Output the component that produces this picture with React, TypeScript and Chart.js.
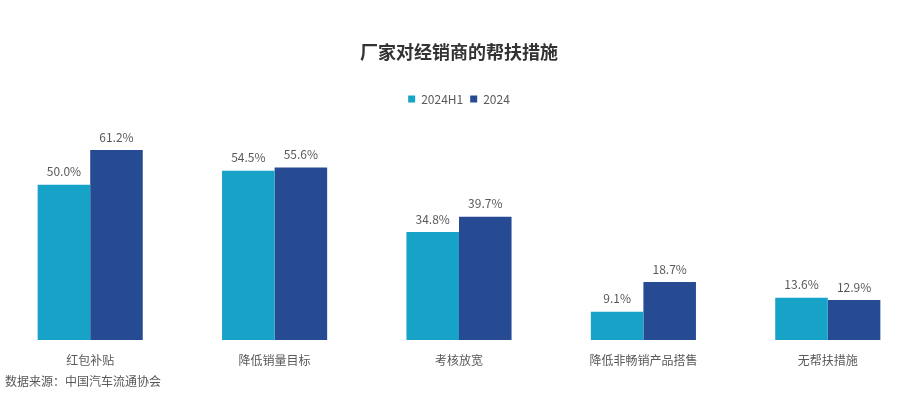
import React, { useEffect, useRef } from "react";
import { Chart, registerables } from "chart.js";

Chart.register(...registerables);

const categories = ["红包补贴", "降低销量目标", "考核放宽", "降低非畅销产品搭售", "无帮扶措施"];
const series2024H1 = [50.0, 54.5, 34.8, 9.1, 13.6];
const series2024 = [61.2, 55.6, 39.7, 18.7, 12.9];
const seriesNames = ["2024H1", "2024"];

const FONT = "'Noto Sans CJK SC', 'Noto Sans', sans-serif";

const labelPlugin = {
  id: "barLabels",
  afterDatasetsDraw(chart: any) {
    const ctx = chart.ctx;
    ctx.save();
    ctx.font = `12px ${FONT}`;
    ctx.fillStyle = "#595959";
    ctx.textAlign = "center";
    ctx.textBaseline = "middle";
    chart.data.datasets.forEach((ds: any, di: number) => {
      const meta = chart.getDatasetMeta(di);
      meta.data.forEach((bar: any, i: number) => {
        ctx.fillText(ds.data[i].toFixed(1) + "%", bar.x, bar.y - 13);
      });
    });
    ctx.restore();
  },
};

export default function App() {
  const ref = useRef<HTMLCanvasElement | null>(null);
  useEffect(() => {
    if (!ref.current) return;
    const chart = new Chart(ref.current, {
      type: "bar",
      data: {
        labels: categories,
        datasets: [
          { label: seriesNames[0], data: series2024H1, backgroundColor: "#17a2c8", categoryPercentage: 0.57, barPercentage: 1.0 },
          { label: seriesNames[1], data: series2024, backgroundColor: "#264b93", categoryPercentage: 0.57, barPercentage: 1.0 },
        ],
      },
      options: {
        animation: false,
        responsive: false,
        maintainAspectRatio: false,
        layout: { padding: { top: 0, bottom: 21.6, left: 0, right: 0 } },
        plugins: {
          title: {
            display: true,
            text: "厂家对经销商的帮扶措施",
            color: "#333333",
            font: { family: FONT, size: 18, weight: "bold" },
            padding: { top: 41.2, bottom: 23.2 },
          },
          legend: {
            display: true,
            labels: {
              usePointStyle: true,
              pointStyle: "rect",
              boxWidth: 7,
              boxHeight: 7,
              color: "#595959",
              font: { family: FONT, size: 12 },
              padding: 7,
            },
          },
          tooltip: { enabled: false },
        },
        scales: {
          x: {
            grid: { display: false },
            border: { display: false },
            ticks: { color: "#595959", font: { family: FONT, size: 12 }, padding: 5, maxRotation: 0, autoSkip: false },
          },
          y: {
            display: false,
            min: 0,
            max: 72.5,
          },
        },
      },
      plugins: [labelPlugin],
    });
    return () => chart.destroy();
  }, []);
  return (
    <div style={{ position: "fixed", left: 0, top: 0, width: 900, height: 394, overflow: "hidden", background: "#fff" }}>
      <canvas ref={ref} width={922} height={394} style={{ position: "absolute", left: -2, top: 0, width: 922, height: 394 }} />
      <div style={{ position: "absolute", left: 5, top: 373, fontFamily: FONT, fontSize: 12, color: "#595959", lineHeight: "16px" }}>
        数据来源：中国汽车流通协会
      </div>
    </div>
  );
}
